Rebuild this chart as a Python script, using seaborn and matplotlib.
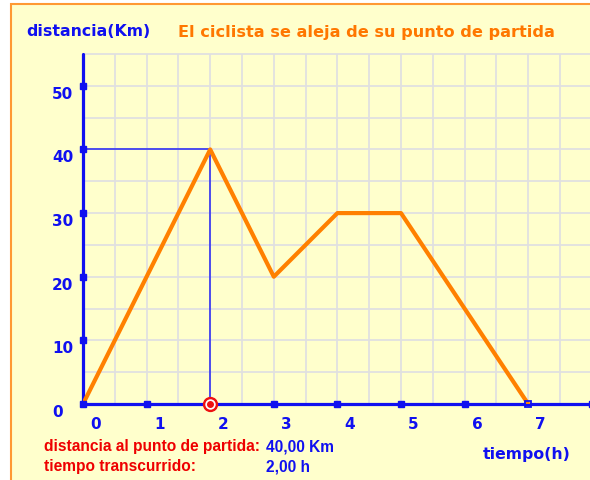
import matplotlib
matplotlib.use("Agg")
import matplotlib.pyplot as plt
import matplotlib.transforms as mtransforms
from matplotlib.patches import Rectangle
import seaborn as sns
import pandas as pd
import numpy as np

# ---- data ----
time_h = [0, 2, 3, 4, 5, 7]
dist_km = [0, 40, 20, 30, 30, 0]
x_tick_vals = [0, 1, 2, 3, 4, 5, 6, 7]
y_tick_vals = [0, 10, 20, 30, 40, 50]
current_t = 2
current_d = 40
title = "El ciclista se aleja de su punto de partida"
y_title = "distancia(Km)"
x_title = "tiempo(h)"
info_labels = ["distancia al punto de partida:", "tiempo transcurrido:"]

sns.set_theme(style="white")
plt.rcParams['font.family'] = ['DejaVu Sans']

W, H = 590, 481
fig = plt.figure(figsize=(W / 100, H / 100), dpi=100)
fig.patch.set_facecolor("white")

def fx(px):
    return px / W

def fy(py):
    return 1 - py / H

# background panel with orange frame
fig.patches.append(Rectangle((fx(11), fy(H + 10)), fx(W + 20) - fx(11), fy(5) - fy(H + 10),
                             transform=fig.transFigure, facecolor="#FFFFCC",
                             edgecolor="#FF9933", linewidth=1.5, zorder=-10))

x0_px, y0_px = 83, 405
unit_x = 63.6
unit_y = 6.36
ax = fig.add_axes([fx(x0_px), (H - y0_px) / H, (W - x0_px) / W, (y0_px - 55) / H])
ax.set_zorder(5)
ax.set_facecolor("#FFFFCC")
ax.set_xlim(0, (W - x0_px) / unit_x)
ax.set_ylim(0, 55)
for s in ax.spines.values():
    s.set_visible(False)
ax.set_xticks([])
ax.set_yticks([])

# grid
for gx in np.arange(0.5, 8.01, 0.5):
    ax.axvline(gx, color="#E0E0E0", lw=1.3, zorder=1)
for gy in np.arange(5, 55.01, 5):
    ax.axhline(gy, color="#E0E0E0", lw=1.3, zorder=1, clip_on=False)

blue = "#1010F0"
# axes lines
ax.axhline(0, color=blue, lw=2.3, zorder=3, clip_on=False)
ax.axvline(0, color=blue, lw=2.3, zorder=3, clip_on=False)

# reference lines to current point
ax.plot([0, current_t], [current_d, current_d], color="#3333F0", lw=1.2, zorder=2)
ax.plot([current_t, current_t], [0, current_d], color="#3333F0", lw=1.2, zorder=2)

# main line
df = pd.DataFrame({"t": time_h, "d": dist_km})
sns.lineplot(data=df, x="t", y="d", ax=ax, color="#FF8000", lw=3, zorder=4,
             sort=False, legend=False)
ax.set_xlabel("")
ax.set_ylabel("")

# tick markers
yt = [v for v in y_tick_vals if v > 0]
ax.plot([0] * len(yt), yt, ls="none", marker="s", ms=4.5, color=blue, zorder=5, clip_on=False)
xt = [v for v in x_tick_vals if v not in (0, current_t, 7)] + [8]
ax.plot(xt, [0] * len(xt), ls="none", marker="s", ms=4.5, color=blue, zorder=5, clip_on=False)
ax.plot([0], [0], ls="none", marker="s", ms=4.5, color=blue, zorder=5, clip_on=False)
ax.plot([7], [0], ls="none", marker="s", ms=4.5, mfc="none", mec=blue, mew=1.3, zorder=5, clip_on=False)
# current point marker
ax.plot([current_t], [0], ls="none", marker="o", ms=10, color="#EE1111", zorder=6, clip_on=False)
ax.plot([current_t], [0], ls="none", marker="o", ms=6.5, color="white", zorder=7, clip_on=False)
ax.plot([current_t], [0], ls="none", marker="o", ms=4, color="#EE1111", zorder=8, clip_on=False)

# tick labels
fsz = 11
for v in x_tick_vals:
    tr = mtransforms.offset_copy(ax.transData, fig=fig, x=12.5, y=-20, units="dots")
    ax.text(v, 0, str(v), transform=tr, ha="center", va="center", color=blue,
            fontsize=fsz, fontweight="bold", clip_on=False)
for v in y_tick_vals:
    tr = mtransforms.blended_transform_factory(fig.transFigure, ax.transData)
    tr = tr + mtransforms.ScaledTranslation(0, -7.5 / 100, fig.dpi_scale_trans)
    ax.text(fx(52), v, str(v), transform=tr, ha="left", va="center", color=blue,
            fontsize=fsz, fontweight="bold", clip_on=False)

# titles
fig.text(fx(26), fy(32), y_title, color=blue, fontsize=11.3, fontweight="bold",
         ha="left", va="center")
fig.text(fx(178), fy(32), title, color="#FF7700", fontsize=11.65, fontweight="bold",
         ha="left", va="center")
fig.text(fx(483), fy(455), x_title, color=blue, fontsize=11.3, fontweight="bold",
         ha="left", va="center")

# info texts
info_vals = [f"{current_d:.2f}".replace(".", ",") + " Km",
             f"{current_t:.2f}".replace(".", ",") + " h"]
for i, (lab, val) in enumerate(zip(info_labels, info_vals)):
    yy = 447 + 20 * i
    fig.text(fx(44), fy(yy), lab, color="#EE0000", fontsize=11.2, fontweight="bold",
             family="Liberation Sans", ha="left", va="center")
    fig.text(fx(266), fy(yy), val, color=blue, fontsize=11.2, fontweight="bold",
             family="Liberation Sans", ha="left", va="center")

fig.savefig("out.png", dpi=100, facecolor=fig.get_facecolor())
